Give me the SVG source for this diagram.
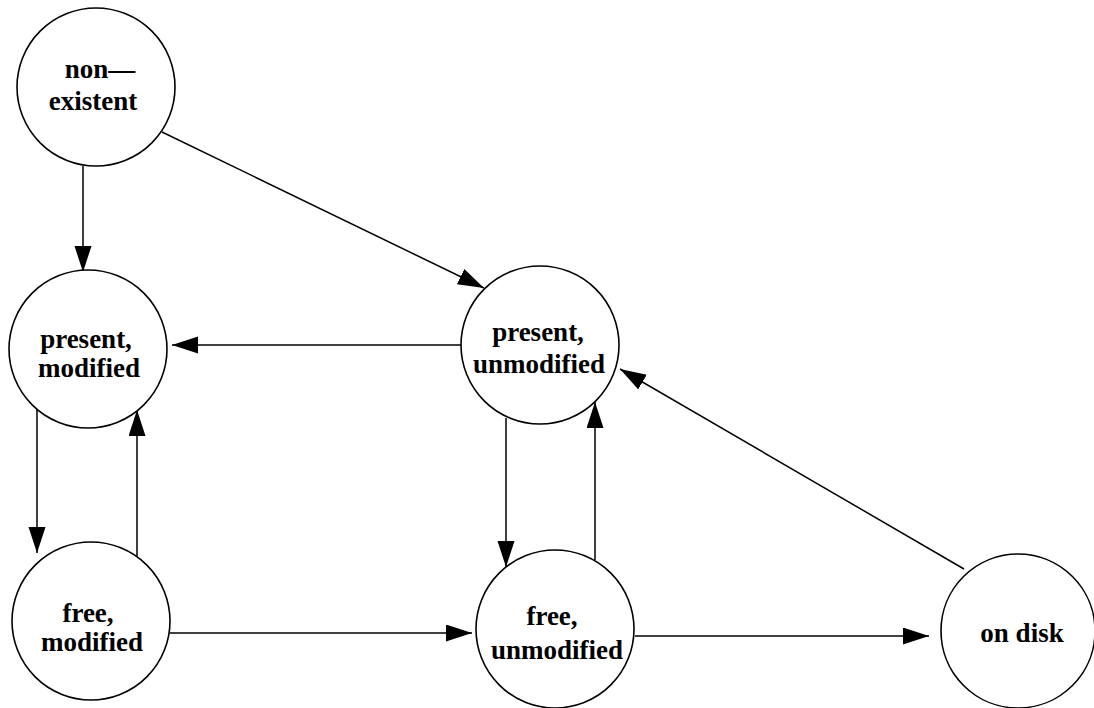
<svg xmlns="http://www.w3.org/2000/svg" width="1094" height="708" viewBox="0 0 1094 708">
<style>
.node circle{fill:#fff;stroke:#000;stroke-width:1.6}
.node text{font-family:"Liberation Serif","Times New Roman",serif;font-weight:bold;font-size:27px;fill:#000;text-anchor:middle}
.edges line{stroke:#000;stroke-width:1.5;marker-end:url(#ah)}
</style>
<defs>
<marker id="ah" markerUnits="userSpaceOnUse" markerWidth="28" markerHeight="18" refX="26" refY="8.5" orient="auto">
<path d="M0,0 L26,8.5 L0,17 z" fill="#000"/>
</marker>
</defs>
<rect width="1094" height="708" fill="#fff"/>
<g class="edges">
<line x1="83" y1="166" x2="83" y2="272"/>
<line x1="162" y1="132" x2="484" y2="288"/>
<line x1="461" y1="345" x2="172" y2="345"/>
<line x1="37" y1="409" x2="37" y2="553"/>
<line x1="137" y1="557" x2="137" y2="410"/>
<line x1="170" y1="633" x2="472" y2="633"/>
<line x1="506" y1="418" x2="506" y2="567"/>
<line x1="595" y1="560" x2="595" y2="402"/>
<line x1="635" y1="636" x2="929" y2="636"/>
<line x1="964" y1="569" x2="620" y2="369"/>
</g>
<g id="non-existent" class="node">
<circle cx="96" cy="87" r="79"/>
<text x="100" y="78">non—</text>
<text x="93" y="110">existent</text>
</g>
<g id="present-modified" class="node">
<circle cx="88" cy="349" r="79"/>
<text x="86" y="348">present,</text>
<text x="89" y="377">modified</text>
</g>
<g id="present-unmodified" class="node">
<circle cx="540" cy="345" r="79"/>
<text x="538" y="341">present,</text>
<text x="539" y="373">unmodified</text>
</g>
<g id="free-modified" class="node">
<circle cx="91" cy="621" r="79"/>
<text x="88" y="622">free,</text>
<text x="92" y="651">modified</text>
</g>
<g id="free-unmodified" class="node">
<circle cx="555" cy="629" r="79"/>
<text x="552" y="625">free,</text>
<text x="557" y="659">unmodified</text>
</g>
<g id="on-disk" class="node">
<circle cx="1018" cy="631" r="77"/>
<text x="1022" y="642">on disk</text>
</g>
</svg>
